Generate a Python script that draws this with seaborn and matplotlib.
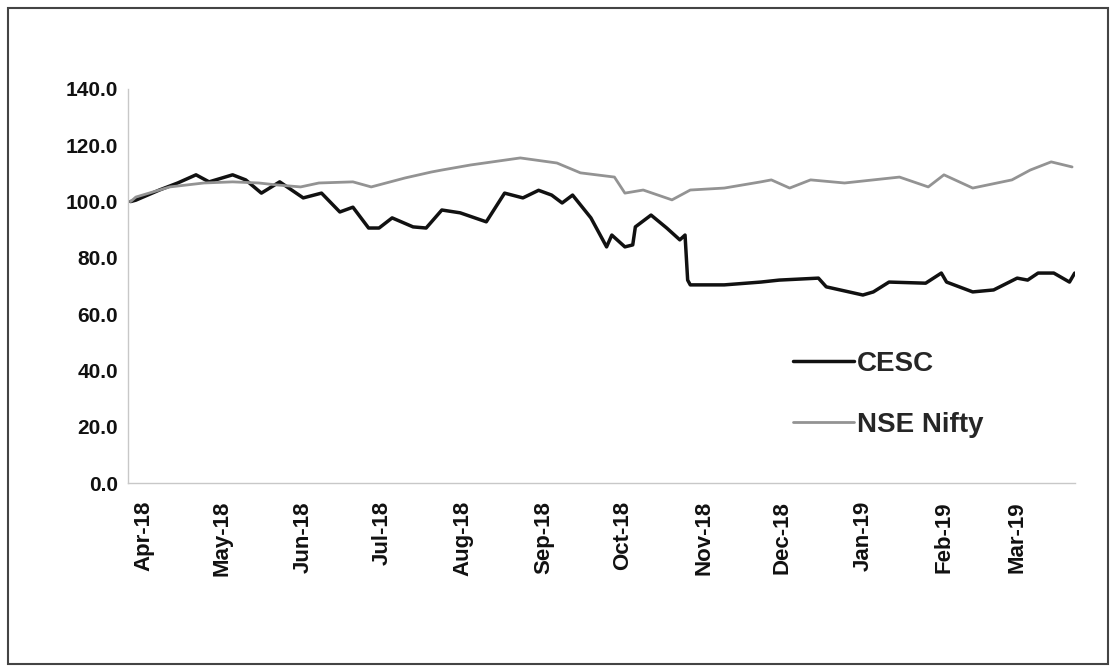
import pandas as pd
import seaborn as sns
import matplotlib.pyplot as plt
import matplotlib.dates as mdates
from matplotlib.patches import Rectangle
from matplotlib.transforms import ScaledTranslation

cesc_dates = ["2018-04-02", "2018-04-04", "2018-04-13", "2018-04-20", "2018-04-27", "2018-05-02",
              "2018-05-11", "2018-05-16", "2018-05-22", "2018-05-29", "2018-06-07", "2018-06-14",
              "2018-06-21", "2018-06-26", "2018-07-02", "2018-07-06", "2018-07-11", "2018-07-19",
              "2018-07-24", "2018-07-30", "2018-08-06", "2018-08-16", "2018-08-23", "2018-08-30",
              "2018-09-05", "2018-09-10", "2018-09-14", "2018-09-18", "2018-09-25", "2018-10-01",
              "2018-10-03", "2018-10-08", "2018-10-11", "2018-10-12", "2018-10-18", "2018-10-24",
              "2018-10-29", "2018-10-31", "2018-11-01", "2018-11-02", "2018-11-15", "2018-11-29",
              "2018-12-06", "2018-12-21", "2018-12-24", "2019-01-07", "2019-01-11", "2019-01-17",
              "2019-01-31", "2019-02-06", "2019-02-08", "2019-02-18", "2019-02-26", "2019-03-07",
              "2019-03-11", "2019-03-15", "2019-03-21", "2019-03-27", "2019-03-29"]
cesc_values = [100.0, 100.5, 104.1, 106.6, 109.5, 107.0,
               109.5, 107.7, 103.0, 107.0, 101.3, 103.0,
               96.3, 98.0, 90.6, 90.6, 94.2, 91.0,
               90.6, 97.0, 96.0, 92.8, 103.0, 101.3,
               104.0, 102.3, 99.5, 102.3, 94.2, 83.9,
               88.1, 83.9, 84.6, 91.0, 95.2, 90.6,
               86.4, 88.1, 72.1, 70.4, 70.4, 71.4,
               72.1, 72.8, 69.7, 66.8, 67.9, 71.4,
               71.0, 74.6, 71.4, 67.9, 68.6, 72.8,
               72.1, 74.6, 74.6, 71.4, 74.6]

nifty_dates = ["2018-04-02", "2018-04-04", "2018-04-17", "2018-04-30", "2018-05-11", "2018-05-21",
               "2018-05-28", "2018-06-06", "2018-06-13", "2018-06-26", "2018-07-03", "2018-07-16",
               "2018-07-26", "2018-07-30", "2018-08-10", "2018-08-29", "2018-09-12", "2018-09-21",
               "2018-10-04", "2018-10-08", "2018-10-15", "2018-10-26", "2018-11-02", "2018-11-15",
               "2018-11-29", "2018-12-03", "2018-12-10", "2018-12-18", "2018-12-31", "2019-01-21",
               "2019-02-01", "2019-02-07", "2019-02-18", "2019-03-05", "2019-03-12", "2019-03-20",
               "2019-03-28"]
nifty_values = [100.0, 101.6, 105.2, 106.6, 107.0, 106.6,
                105.9, 105.2, 106.6, 107.0, 105.2, 108.4,
                110.5, 111.2, 113.0, 115.5, 113.7, 110.2,
                108.7, 103.0, 104.1, 100.6, 104.1, 104.8,
                107.0, 107.7, 104.8, 107.7, 106.6, 108.7,
                105.2, 109.5, 104.8, 107.7, 111.2, 114.1,
                112.3]

y_ticks = [0, 20, 40, 60, 80, 100, 120, 140]

cesc = pd.DataFrame({"date": pd.to_datetime(cesc_dates), "value": cesc_values})
nifty = pd.DataFrame({"date": pd.to_datetime(nifty_dates), "value": nifty_values})

sns.set_theme(style="white")
plt.rcParams['font.family'] = ['Liberation Sans', 'DejaVu Sans']

fig = plt.figure(figsize=(11.16, 6.72), dpi=100)
ax = fig.add_axes([0.1147, 0.2812, 0.8483, 0.5864])

sns.lineplot(data=cesc, x="date", y="value", ax=ax, color="#111111", linewidth=2.5, label="CESC")
sns.lineplot(data=nifty, x="date", y="value", ax=ax, color="#939393", linewidth=2.0, label="NSE Nifty")

ax.set_ylim(0, 140)
ax.set_yticks(y_ticks)
ax.set_yticklabels([f"{v:.1f}" for v in y_ticks], fontsize=15, fontweight="bold")
ax.set_xlim(pd.Timestamp("2018-04-01"), pd.Timestamp("2019-03-29"))
ax.xaxis.set_major_locator(mdates.MonthLocator())
ax.xaxis.set_major_formatter(mdates.DateFormatter("%b-%y"))
ax.set_xlabel("")
ax.set_ylabel("")

for side in ["top", "right"]:
    ax.spines[side].set_visible(False)
for side in ["left", "bottom"]:
    ax.spines[side].set_color("#c8c8c8")
    ax.spines[side].set_linewidth(1.0)
ax.tick_params(axis="y", length=6, direction="inout", color="#c8c8c8", pad=4, labelcolor="#111111")
ax.tick_params(axis="x", length=0, pad=13, labelcolor="#111111")

ax.legend(loc="center left", bbox_to_anchor=(0.676, 0.225), frameon=False,
          handlelength=2.2, labelspacing=1.25, handletextpad=0.1,
          prop={"size": 20, "weight": "bold"})

fig.patches.append(Rectangle((0.007, 0.012), 0.986, 0.976, transform=fig.transFigure,
                             fill=False, edgecolor="#444444", linewidth=1.5))

# month labels sit a little right of the month start in the original
fig.canvas.draw()
offset = ScaledTranslation(0.16, 0, fig.dpi_scale_trans)
for tick in ax.xaxis.get_major_ticks():
    tick.label1.set_rotation(90)
    tick.label1.set_fontsize(16)
    tick.label1.set_fontweight("bold")
    tick.label1.set_transform(tick.label1.get_transform() + offset)

fig.savefig("out.png", dpi=100)
